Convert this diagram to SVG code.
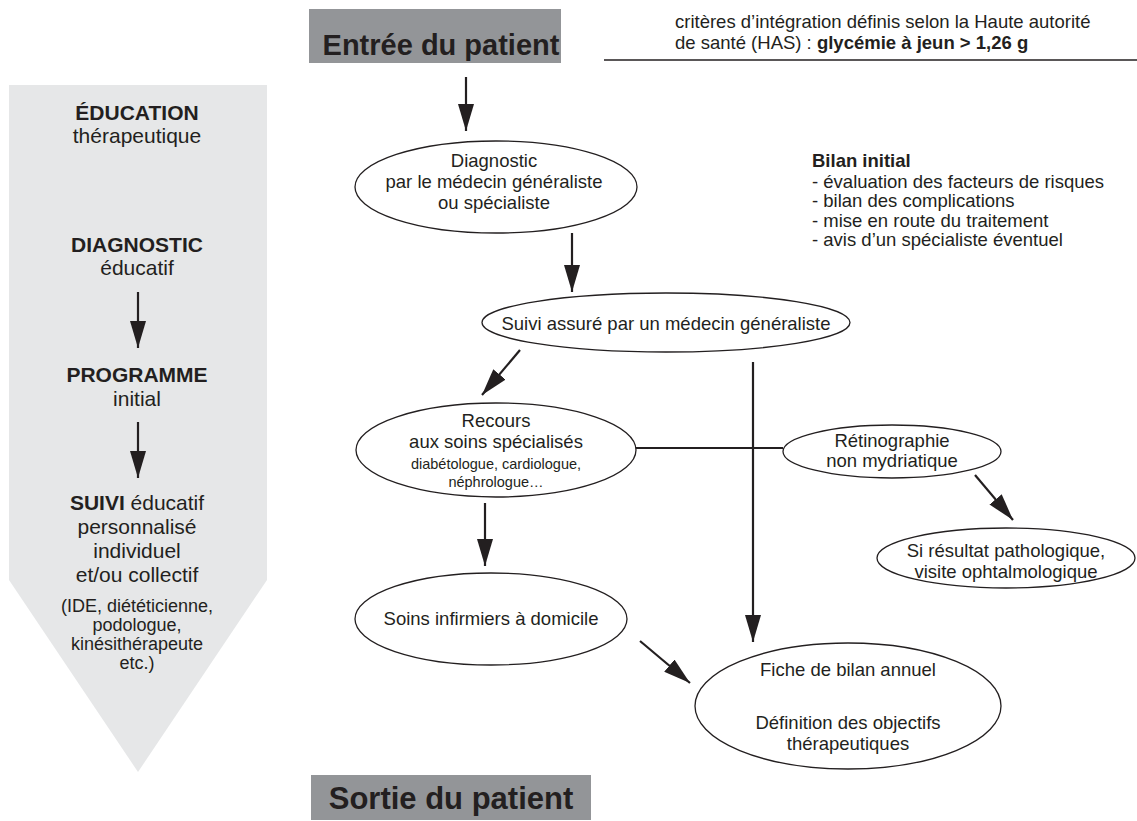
<svg xmlns="http://www.w3.org/2000/svg" width="1137" height="821" viewBox="0 0 1137 821">
<style>
text{font-family:"Liberation Sans",Arial,sans-serif;fill:#231f20;font-size:18.5px}
.c{text-anchor:middle}
.b{font-weight:bold}
.s{font-size:14.5px}
.l{font-size:21px}
.m{font-size:18px}
.t{font-weight:bold;font-size:29px}
ellipse{fill:#fff;stroke:#231f20;stroke-width:1.3}
.cn line{stroke:#231f20;stroke-width:2.2}
</style>
<defs>
<marker id="ah" markerUnits="userSpaceOnUse" markerWidth="28" markerHeight="16" refX="27" refY="8" orient="auto">
<path d="M0,0 L27,8 L0,16 z" fill="#231f20"/>
</marker>
</defs>
<g id="education">
<path d="M9,85 H267 V580 L138,772 L9,580 Z" fill="#e6e7e8"/>
<text class="c l b" x="137" y="120">ÉDUCATION</text>
<text class="c l" x="137" y="143">thérapeutique</text>
<text class="c l b" x="137" y="252">DIAGNOSTIC</text>
<text class="c l" x="137" y="275">éducatif</text>
<text class="c l b" x="137" y="382">PROGRAMME</text>
<text class="c l" x="137" y="406">initial</text>
<text class="c l" x="137" y="510"><tspan class="b">SUIVI</tspan> éducatif</text>
<text class="c l" x="137" y="534">personnalisé</text>
<text class="c l" x="137" y="558">individuel</text>
<text class="c l" x="137" y="582">et/ou collectif</text>
<text class="c m" x="137" y="612">(IDE, diététicienne,</text>
<text class="c m" x="137" y="631">podologue,</text>
<text class="c m" x="137" y="650">kinésithérapeute</text>
<text class="c m" x="137" y="669">etc.)</text>
</g>
<g id="entree">
<rect x="309" y="9" width="252" height="54" fill="#939598"/>
<text class="c t" x="441" y="55">Entrée du patient</text>
</g>
<g id="criteres">
<text x="675" y="28">critères d’intégration définis selon la Haute autorité</text>
<text x="675" y="49">de santé (HAS) : <tspan class="b">glycémie à jeun &gt; 1,26 g</tspan></text>
<line x1="604" y1="60" x2="1137" y2="60" stroke="#231f20" stroke-width="1.5"/>
</g>
<g id="bilan">
<text class="b" x="812" y="167">Bilan initial</text>
<text x="812" y="188">- évaluation des facteurs de risques</text>
<text x="812" y="207">- bilan des complications</text>
<text x="812" y="227">- mise en route du traitement</text>
<text x="812" y="246">- avis d’un spécialiste éventuel</text>
</g>
<g id="diagnostic">
<ellipse cx="496" cy="187" rx="141" ry="46"/>
<text class="c" x="494" y="167">Diagnostic</text>
<text class="c" x="494" y="188">par le médecin généraliste</text>
<text class="c" x="494" y="209">ou spécialiste</text>
</g>
<g id="suivi">
<ellipse cx="666" cy="322.5" rx="184" ry="29.5"/>
<text class="c" x="666" y="330">Suivi assuré par un médecin généraliste</text>
</g>
<g id="recours">
<ellipse cx="496" cy="450" rx="140" ry="47"/>
<text class="c" x="496" y="427">Recours</text>
<text class="c" x="496" y="448">aux soins spécialisés</text>
<text class="c s" x="496" y="469">diabétologue, cardiologue,</text>
<text class="c s" x="496" y="487">néphrologue…</text>
</g>
<g id="retino">
<ellipse cx="892" cy="451.5" rx="109" ry="26.5"/>
<text class="c" x="892" y="447">Rétinographie</text>
<text class="c" x="892" y="467">non mydriatique</text>
</g>
<g id="resultat">
<ellipse cx="1006" cy="558" rx="129" ry="30"/>
<text class="c" x="1006" y="557">Si résultat pathologique,</text>
<text class="c" x="1006" y="578">visite ophtalmologique</text>
</g>
<g id="soins">
<ellipse cx="491" cy="619" rx="136" ry="46"/>
<text class="c" x="491" y="625">Soins infirmiers à domicile</text>
</g>
<g id="fiche">
<ellipse cx="848" cy="706" rx="153" ry="63"/>
<text class="c" x="848" y="676">Fiche de bilan annuel</text>
<text class="c" x="848" y="729">Définition des objectifs</text>
<text class="c" x="848" y="750">thérapeutiques</text>
</g>
<g id="sortie">
<rect x="311" y="775" width="280" height="45" fill="#939598"/>
<text class="c t" x="451" y="809" style="font-size:31px">Sortie du patient</text>
</g>
<g id="connectors" class="cn">
<line x1="138" y1="292" x2="138" y2="348" marker-end="url(#ah)"/>
<line x1="138" y1="422" x2="138" y2="478" marker-end="url(#ah)"/>
<line x1="466" y1="77" x2="466" y2="131" marker-end="url(#ah)"/>
<line x1="572" y1="233" x2="572" y2="292" marker-end="url(#ah)"/>
<line x1="520" y1="350" x2="482" y2="395" marker-end="url(#ah)"/>
<line x1="753" y1="362" x2="753" y2="642" marker-end="url(#ah)"/>
<line x1="636" y1="448" x2="783" y2="448"/>
<line x1="975" y1="475" x2="1013" y2="520" marker-end="url(#ah)"/>
<line x1="485" y1="503" x2="485" y2="566" marker-end="url(#ah)"/>
<line x1="640" y1="641" x2="690" y2="683" marker-end="url(#ah)"/>
</g>
</svg>
